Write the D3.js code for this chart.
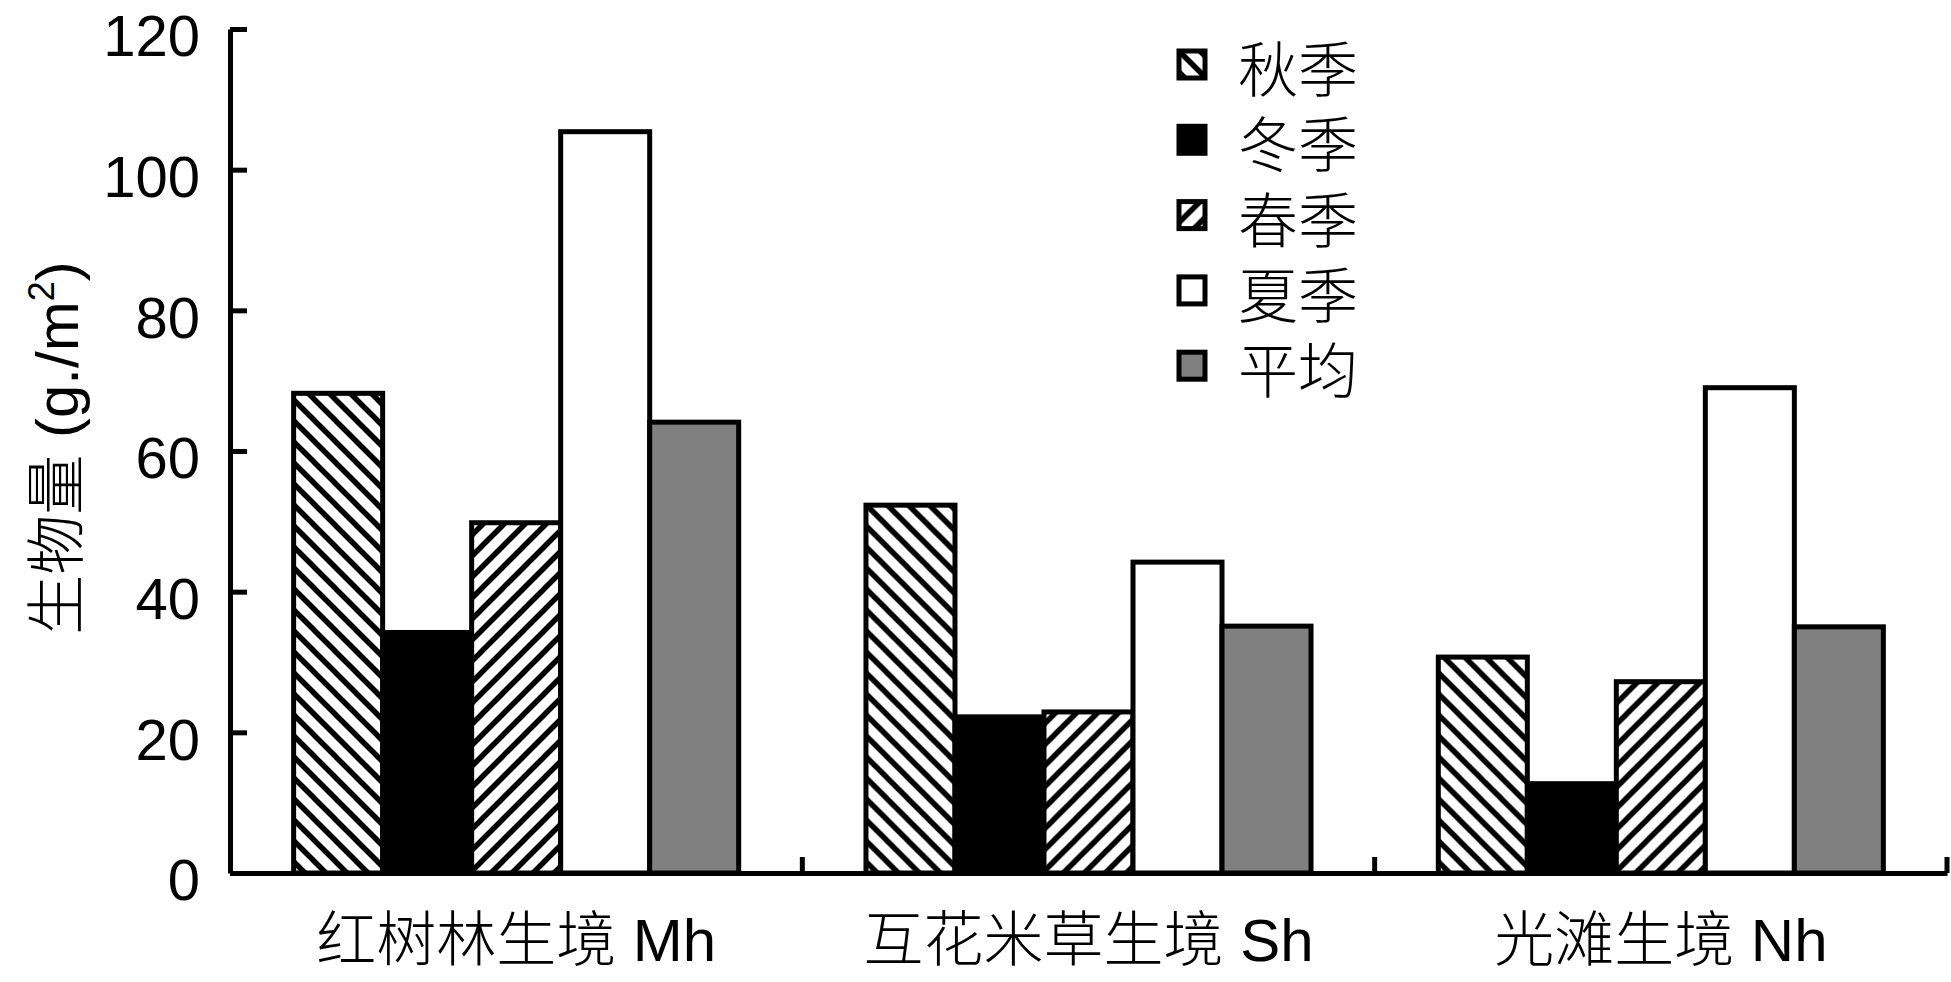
<!DOCTYPE html>
<html>
<head>
<meta charset="utf-8">
<script src="https://cdn.jsdelivr.net/npm/d3@7"></script>
<style>
  html, body { margin: 0; padding: 0; background: #fff; }
  svg { display: block; }
</style>
</head>
<body>
<svg id="chart"></svg>
<script>
// habitats and seasons
var categories = ["红树林生境 Mh", "互花米草生境 Sh", "光滩生境 Nh"];
var seasons = ["秋季", "冬季", "春季", "夏季", "平均"];

// biomass (g/m2)
var autumn  = [68.2, 52.3, 30.7];
var winter  = [34.2, 22.2, 12.7];
var spring  = [49.8, 22.9, 27.2];
var summer  = [105.4, 44.2, 69.0];
var average = [64.1, 35.1, 35.0];

var yTicks = [0, 20, 40, 60, 80, 100, 120];

var series = [autumn, winter, spring, summer, average];
var fills = ["url(#hatchBack)", "#000", "url(#hatchFwd)", "#fff", "#808080"];

var width = 1951, height = 982;
var margin = { left: 230, right: 4, top: 29, bottom: 109 };
var latin = "'Liberation Sans', Arial, sans-serif";
var cjk = "'Noto Sans CJK SC', 'Liberation Sans', sans-serif";

var svg = d3.select("#chart")
            .attr("width", width)
            .attr("height", height);

// hatch patterns
var defs = svg.append("defs");
function hatch(id, d) {
  defs.append("pattern")
      .attr("id", id)
      .attr("patternUnits", "userSpaceOnUse")
      .attr("width", 21)
      .attr("height", 21)
    .call(function(p) {
      p.append("rect").attr("width", 21).attr("height", 21).attr("fill", "#fff");
      p.append("path").attr("d", d).attr("stroke", "#000").attr("stroke-width", 5.5);
    });
}
hatch("hatchBack", "M-5,-5L26,26M-5,16L5,26M16,-5L26,5");
hatch("hatchFwd", "M-5,26L26,-5M-5,5L5,-5M16,26L26,16");

var x0 = d3.scaleBand()
           .domain(categories)
           .range([margin.left, width - margin.right]);

var x1 = d3.scaleBand()
           .domain(seasons)
           .range([0, x0.bandwidth()])
           .paddingInner(0)
           .paddingOuter(0.715);

var y = d3.scaleLinear()
          .domain([0, 120])
          .range([height - margin.bottom, margin.top]);

// bars
var groups = svg.append("g")
                .selectAll("g")
                .data(categories)
                .enter()
                .append("g")
                .attr("transform", function(d) { return "translate(" + x0(d) + ",0)"; });

groups.selectAll("rect")
      .data(function(d, i) { return seasons.map(function(s, j) { return { s: s, j: j, v: series[j][i] }; }); })
      .enter()
      .append("rect")
      .attr("x", function(d) { return x1(d.s); })
      .attr("y", function(d) { return y(d.v); })
      .attr("width", x1.bandwidth())
      .attr("height", function(d) { return y(0) - y(d.v); })
      .attr("fill", function(d) { return fills[d.j]; })
      .attr("stroke", "#000")
      .attr("stroke-width", 5);

// y axis, ticks pointing inward
var yAxis = d3.axisLeft(y)
              .tickValues(yTicks)
              .tickSizeInner(-17)
              .tickSizeOuter(0)
              .tickPadding(30);

var yg = svg.append("g")
            .attr("transform", "translate(" + margin.left + ",0)")
            .call(yAxis);
yg.select(".domain").attr("stroke-width", 5);
yg.selectAll(".tick line").attr("stroke-width", 5);
yg.selectAll(".tick text")
  .attr("font-family", latin)
  .attr("font-size", 58)
  .attr("dy", "0.46em")
  .attr("fill", "#000");

// x axis line with category labels (CJK part thin, latin part regular)
var xAxis = d3.axisBottom(x0).tickSize(0).tickPadding(0).tickFormat("");
var xg = svg.append("g")
            .attr("transform", "translate(0," + y(0) + ")")
            .call(xAxis);
xg.select(".domain").attr("stroke-width", 5);
xg.selectAll(".tick").each(function(d) {
  var parts = d.split(" ");
  var t = d3.select(this).select("text")
            .attr("dy", null)
            .attr("y", 88)
            .attr("font-size", 60)
            .attr("fill", "#000");
  t.append("tspan").attr("font-family", cjk).attr("font-weight", 300).text(parts[0]);
  t.append("tspan").attr("font-family", latin).text(" " + parts[1]);
});

// boundary ticks between categories
svg.append("g")
   .selectAll("line")
   .data(categories)
   .enter()
   .append("line")
   .attr("x1", function(d) { return x0(d) + x0.bandwidth(); })
   .attr("x2", function(d) { return x0(d) + x0.bandwidth(); })
   .attr("y1", y(0))
   .attr("y2", y(0) - 16)
   .attr("stroke", "#000")
   .attr("stroke-width", 5);

// y title
var yt = svg.append("text")
            .attr("transform", "translate(78," + 448 + ") rotate(-90)")
            .attr("text-anchor", "middle")
            .attr("font-family", latin)
            .attr("font-size", 60)
            .attr("fill", "#000");
yt.append("tspan").attr("font-family", cjk).attr("font-weight", 300).text("生物量");
yt.append("tspan").text(" (g./m");
yt.append("tspan").attr("font-size", 36).attr("dy", -24).text("2");
yt.append("tspan").attr("dy", 24).text(")");

// legend
var legend = svg.append("g")
                .selectAll("g")
                .data(seasons)
                .enter()
                .append("g")
                .attr("transform", function(d, i) { return "translate(1179," + (51 + i * 75.3) + ")"; });

legend.append("rect")
      .attr("width", 26)
      .attr("height", 27)
      .attr("fill", function(d, i) { return fills[i]; })
      .attr("stroke", "#000")
      .attr("stroke-width", 5);

legend.append("text")
      .attr("x", 59)
      .attr("y", 41)
      .attr("font-family", cjk)
      .attr("font-weight", 300)
      .attr("font-size", 60)
      .attr("fill", "#000")
      .text(function(d) { return d; });
</script>
</body>
</html>
